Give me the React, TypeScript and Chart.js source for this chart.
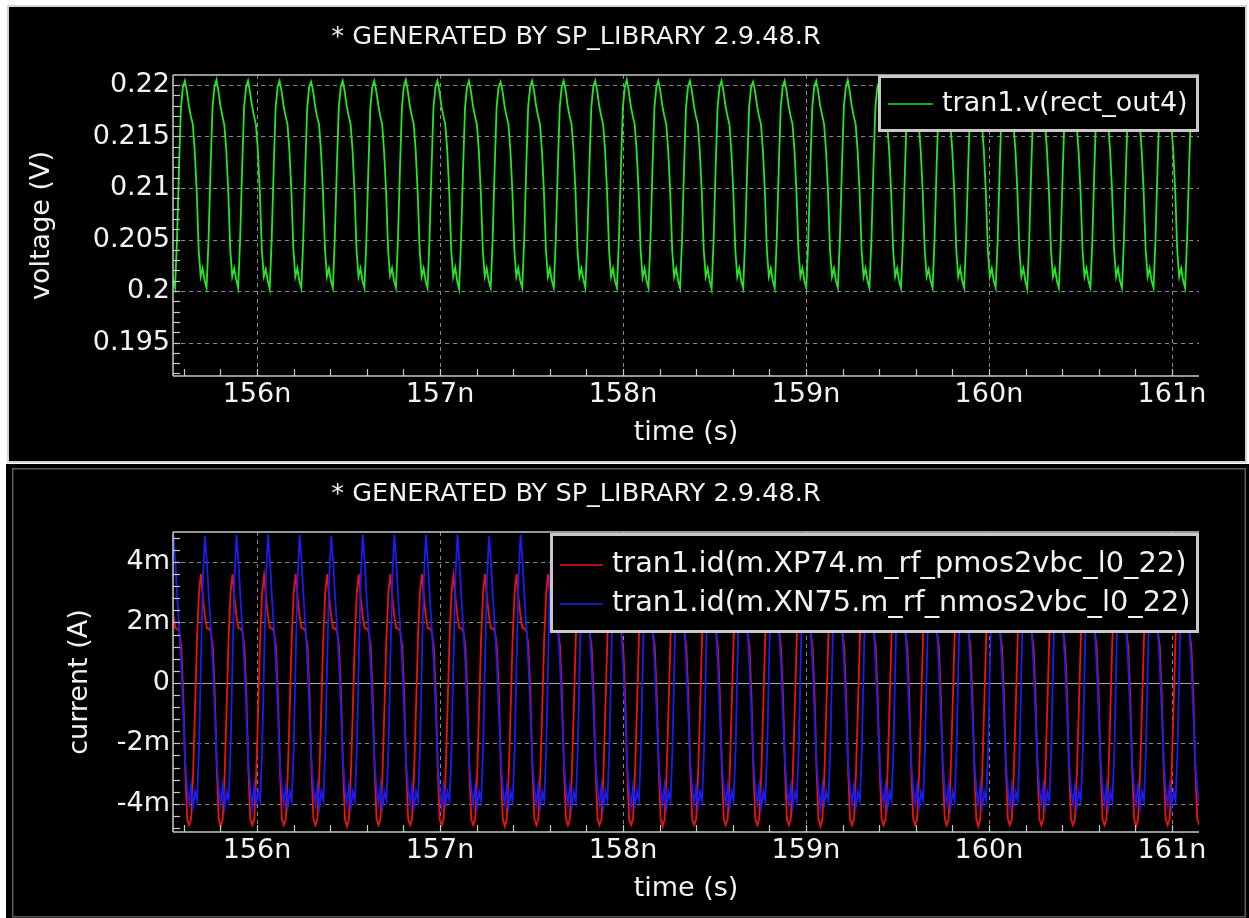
import React, { useEffect, useRef } from 'react';
import { Chart, registerables } from 'chart.js';

Chart.register(...registerables);

// ---------- texts & ticks ----------
const TITLE = '* GENERATED BY SP_LIBRARY 2.9.48.R';
const X_TITLE = 'time (s)';
const V_TITLE = 'voltage (V)';
const I_TITLE = 'current (A)';
const V_LABEL = 'tran1.v(rect_out4)';
const P_LABEL = 'tran1.id(m.XP74.m_rf_pmos2vbc_l0_22)';
const N_LABEL = 'tran1.id(m.XN75.m_rf_nmos2vbc_l0_22)';

const TIME_TICKS = [156, 157, 158, 159, 160, 161];
const TIME_TICK_LABELS = ['156n', '157n', '158n', '159n', '160n', '161n'];
const VOLT_TICKS = [0.195, 0.2, 0.205, 0.21, 0.215, 0.22];
const VOLT_TICK_LABELS = ['0.195', '0.2', '0.205', '0.21', '0.215', '0.22'];
const CUR_TICKS = [-4, -2, 0, 2, 4];
const CUR_TICK_LABELS = ['-4m', '-2m', '0', '2m', '4m'];

// axis ranges (ns, V, mA)
const TIME_MIN = 155.541;
const TIME_MAX = 161.148;
const VOLT_MIN = 0.19175;
const VOLT_MAX = 0.22097;
const CUR_MIN = -4.93;
const CUR_MAX = 4.99;

// sampling grid of the traces (ns)
const SAMPLE_STEP_NS = 0.01078125;
const V_START_NS = 155.5305;
const I_START_NS = 155.5322;

// ---------- series ----------
// tran1.v(rect_out4), volts
const V_RECT_OUT4 = [
  0.2022, 0.2010, 0.2003, 0.2050, 0.2118, 0.2178, 0.2198,
  0.2204, 0.2194, 0.2180, 0.2170, 0.2162, 0.2136, 0.2096, 0.2040, 0.2014, 0.2022, 0.2010, 0.2003, 0.2050, 0.2118, 0.2178, 0.2198,
  0.2205, 0.2194, 0.2180, 0.2170, 0.2161, 0.2136, 0.2096, 0.2040, 0.2014, 0.2022, 0.2011, 0.2003, 0.2050, 0.2118, 0.2178, 0.2198,
  0.2204, 0.2193, 0.2180, 0.2170, 0.2162, 0.2136, 0.2095, 0.2040, 0.2014, 0.2021, 0.2010, 0.2002, 0.2050, 0.2118, 0.2178, 0.2198,
  0.2204, 0.2194, 0.2180, 0.2170, 0.2162, 0.2136, 0.2096, 0.2040, 0.2014, 0.2022, 0.2010, 0.2003, 0.2050, 0.2118, 0.2178, 0.2198,
  0.2203, 0.2194, 0.2180, 0.2169, 0.2162, 0.2136, 0.2096, 0.2041, 0.2014, 0.2022, 0.2010, 0.2003, 0.2051, 0.2118, 0.2178, 0.2198,
  0.2204, 0.2194, 0.2180, 0.2170, 0.2162, 0.2136, 0.2096, 0.2040, 0.2014, 0.2022, 0.2010, 0.2003, 0.2050, 0.2118, 0.2178, 0.2198,
  0.2204, 0.2194, 0.2181, 0.2170, 0.2162, 0.2135, 0.2096, 0.2040, 0.2015, 0.2022, 0.2010, 0.2003, 0.2050, 0.2117, 0.2178, 0.2199,
  0.2205, 0.2194, 0.2180, 0.2170, 0.2162, 0.2136, 0.2096, 0.2040, 0.2014, 0.2022, 0.2010, 0.2003, 0.2050, 0.2118, 0.2178, 0.2198,
  0.2204, 0.2194, 0.2180, 0.2170, 0.2162, 0.2136, 0.2096, 0.2040, 0.2014, 0.2023, 0.2010, 0.2002, 0.2050, 0.2118, 0.2178, 0.2198,
  0.2204, 0.2194, 0.2180, 0.2170, 0.2162, 0.2136, 0.2096, 0.2040, 0.2014, 0.2022, 0.2010, 0.2003, 0.2050, 0.2118, 0.2178, 0.2198,
  0.2203, 0.2194, 0.2180, 0.2170, 0.2162, 0.2136, 0.2097, 0.2040, 0.2014, 0.2022, 0.2010, 0.2003, 0.2050, 0.2118, 0.2179, 0.2198,
  0.2204, 0.2194, 0.2180, 0.2170, 0.2162, 0.2136, 0.2096, 0.2040, 0.2014, 0.2022, 0.2010, 0.2003, 0.2050, 0.2118, 0.2178, 0.2198,
  0.2204, 0.2195, 0.2180, 0.2170, 0.2162, 0.2136, 0.2096, 0.2040, 0.2014, 0.2022, 0.2011, 0.2003, 0.2050, 0.2118, 0.2178, 0.2198,
  0.2204, 0.2194, 0.2180, 0.2170, 0.2162, 0.2136, 0.2096, 0.2040, 0.2014, 0.2022, 0.2010, 0.2003, 0.2050, 0.2118, 0.2178, 0.2198,
  0.2205, 0.2194, 0.2180, 0.2170, 0.2162, 0.2136, 0.2096, 0.2040, 0.2013, 0.2022, 0.2010, 0.2003, 0.2050, 0.2118, 0.2178, 0.2198,
  0.2204, 0.2194, 0.2180, 0.2170, 0.2162, 0.2136, 0.2096, 0.2040, 0.2014, 0.2022, 0.2010, 0.2003, 0.2050, 0.2118, 0.2178, 0.2198,
  0.2204, 0.2194, 0.2180, 0.2170, 0.2162, 0.2136, 0.2096, 0.2040, 0.2014, 0.2022, 0.2010, 0.2002, 0.2049, 0.2118, 0.2178, 0.2198,
  0.2204, 0.2194, 0.2180, 0.2170, 0.2162, 0.2136, 0.2096, 0.2040, 0.2014, 0.2022, 0.2010, 0.2003, 0.2050, 0.2118, 0.2178, 0.2198,
  0.2203, 0.2194, 0.2180, 0.2170, 0.2162, 0.2136, 0.2096, 0.2040, 0.2014, 0.2022, 0.2010, 0.2003, 0.2050, 0.2118, 0.2178, 0.2198,
  0.2204, 0.2194, 0.2180, 0.2170, 0.2162, 0.2136, 0.2096, 0.2040, 0.2014, 0.2022, 0.2010, 0.2003, 0.2050, 0.2118, 0.2178, 0.2198,
  0.2204, 0.2194, 0.2180, 0.2171, 0.2162, 0.2136, 0.2096, 0.2040, 0.2014, 0.2022, 0.2010, 0.2003, 0.2050, 0.2118, 0.2178, 0.2198,
  0.2205, 0.2194, 0.2180, 0.2170, 0.2162, 0.2136, 0.2096, 0.2040, 0.2014, 0.2022, 0.2010, 0.2003, 0.2050, 0.2118, 0.2178, 0.2198,
  0.2204, 0.2194, 0.2180, 0.2170, 0.2162, 0.2136, 0.2096, 0.2040, 0.2014, 0.2022, 0.2010, 0.2003, 0.2050, 0.2118, 0.2178, 0.2198,
  0.2204, 0.2194, 0.2180, 0.2170, 0.2162, 0.2136, 0.2096, 0.2040, 0.2014, 0.2021, 0.2010, 0.2003, 0.2050, 0.2118, 0.2178, 0.2198,
  0.2204, 0.2194, 0.2180, 0.2170, 0.2162, 0.2136, 0.2096, 0.2040, 0.2014, 0.2022, 0.2010, 0.2003, 0.2050, 0.2118, 0.2178, 0.2198,
  0.2203, 0.2194, 0.2180, 0.2170, 0.2162, 0.2136, 0.2096, 0.2040, 0.2014, 0.2022, 0.2010, 0.2003, 0.2050, 0.2118, 0.2178, 0.2198,
  0.2204, 0.2194, 0.2180, 0.2170, 0.2162, 0.2136, 0.2096, 0.2040, 0.2014, 0.2022, 0.2010, 0.2002, 0.2050, 0.2118, 0.2178, 0.2198,
  0.2204, 0.2194, 0.2180, 0.2170, 0.2162, 0.2136, 0.2096, 0.2040, 0.2014, 0.2022, 0.2010, 0.2003, 0.2050, 0.2118, 0.2178, 0.2198,
  0.2204, 0.2194, 0.2180, 0.2170, 0.2162, 0.2136, 0.2096, 0.2040, 0.2014, 0.2022, 0.2010, 0.2003, 0.2050, 0.2118, 0.2178, 0.2198,
  0.2205, 0.2194, 0.2180, 0.2170, 0.2162, 0.2136, 0.2096, 0.2040, 0.2014, 0.2022, 0.2010, 0.2003, 0.2050, 0.2118, 0.2178, 0.2198,
  0.2204, 0.2194, 0.2180, 0.2170, 0.2162, 0.2136, 0.2096, 0.2040, 0.2014, 0.2022, 0.2010, 0.2003, 0.2050, 0.2118, 0.2178, 0.2198,
  0.2204, 0.2194, 0.2180, 0.2170, 0.2162, 0.2136, 0.2096, 0.2040, 0.2014, 0.2022, 0.2010, 0.2003, 0.2050, 0.2118, 0.2178, 0.2198,
  0.2204, 0.2194, 0.2180, 0.2170,
];

// tran1.id(m.XP74...) , mA
const ID_PMOS = [
  2.8,
  2.2, 1.8, 1.8, 1.7, 1.2, -0.4, -2.8, -4.5, -4.7, -4.5, -3.0, -0.8, 1.5, 3.0, 3.6, 2.8,
  2.2, 1.8, 1.8, 1.7, 1.2, -0.4, -2.8, -4.5, -4.75, -4.5, -3.0, -0.8, 1.5, 3.0, 3.6, 2.8,
  2.2, 1.8, 1.8, 1.7, 1.2, -0.4, -2.8, -4.5, -4.7, -4.5, -3.0, -0.8, 1.5, 3.0, 3.55, 2.8,
  2.2, 1.8, 1.8, 1.7, 1.2, -0.4, -2.8, -4.5, -4.7, -4.5, -3.0, -0.8, 1.5, 3.0, 3.6, 2.8,
  2.2, 1.8, 1.8, 1.7, 1.2, -0.4, -2.8, -4.5, -4.7, -4.5, -3.0, -0.8, 1.5, 3.0, 3.6, 2.8,
  2.2, 1.8, 1.8, 1.7, 1.2, -0.4, -2.8, -4.5, -4.75, -4.5, -3.0, -0.8, 1.5, 3.0, 3.6, 2.8,
  2.2, 1.8, 1.8, 1.7, 1.2, -0.4, -2.8, -4.5, -4.7, -4.5, -3.0, -0.8, 1.5, 3.0, 3.6, 2.8,
  2.2, 1.8, 1.8, 1.7, 1.2, -0.4, -2.8, -4.5, -4.7, -4.5, -3.0, -0.8, 1.5, 3.0, 3.6, 2.8,
  2.2, 1.8, 1.8, 1.7, 1.2, -0.4, -2.8, -4.5, -4.7, -4.5, -3.0, -0.8, 1.5, 3.0, 3.55, 2.8,
  2.2, 1.8, 1.8, 1.7, 1.2, -0.4, -2.8, -4.5, -4.7, -4.5, -3.0, -0.8, 1.5, 3.0, 3.6, 2.8,
  2.2, 1.8, 1.8, 1.7, 1.2, -0.4, -2.8, -4.5, -4.75, -4.5, -3.0, -0.8, 1.5, 3.0, 3.6, 2.8,
  2.2, 1.8, 1.8, 1.7, 1.2, -0.4, -2.8, -4.5, -4.7, -4.5, -3.0, -0.8, 1.5, 3.0, 3.6, 2.8,
  2.2, 1.8, 1.8, 1.7, 1.2, -0.4, -2.8, -4.5, -4.7, -4.5, -3.0, -0.8, 1.5, 3.0, 3.6, 2.8,
  2.2, 1.8, 1.8, 1.7, 1.2, -0.4, -2.8, -4.5, -4.7, -4.5, -3.0, -0.8, 1.5, 3.0, 3.6, 2.8,
  2.2, 1.8, 1.8, 1.7, 1.2, -0.4, -2.8, -4.5, -4.7, -4.5, -3.0, -0.8, 1.5, 3.0, 3.6, 2.8,
  2.2, 1.8, 1.8, 1.7, 1.2, -0.4, -2.8, -4.5, -4.75, -4.5, -3.0, -0.8, 1.5, 3.0, 3.6, 2.8,
  2.2, 1.8, 1.8, 1.7, 1.2, -0.4, -2.8, -4.5, -4.7, -4.5, -3.0, -0.8, 1.5, 3.0, 3.6, 2.8,
  2.2, 1.8, 1.8, 1.7, 1.2, -0.4, -2.8, -4.5, -4.7, -4.5, -3.0, -0.8, 1.5, 3.0, 3.6, 2.8,
  2.2, 1.8, 1.8, 1.7, 1.2, -0.4, -2.8, -4.5, -4.7, -4.5, -3.0, -0.8, 1.5, 3.0, 3.6, 2.8,
  2.2, 1.8, 1.8, 1.7, 1.2, -0.4, -2.8, -4.5, -4.7, -4.5, -3.0, -0.8, 1.5, 3.0, 3.6, 2.8,
  2.2, 1.8, 1.8, 1.7, 1.2, -0.4, -2.8, -4.5, -4.75, -4.5, -3.0, -0.8, 1.5, 3.0, 3.6, 2.8,
  2.2, 1.8, 1.8, 1.7, 1.2, -0.4, -2.8, -4.5, -4.7, -4.5, -3.0, -0.8, 1.5, 3.0, 3.6, 2.8,
  2.2, 1.8, 1.8, 1.7, 1.2, -0.4, -2.8, -4.5, -4.7, -4.5, -3.0, -0.8, 1.5, 3.0, 3.6, 2.8,
  2.2, 1.8, 1.8, 1.7, 1.2, -0.4, -2.8, -4.5, -4.7, -4.5, -3.0, -0.8, 1.5, 3.0, 3.6, 2.8,
  2.2, 1.8, 1.8, 1.7, 1.2, -0.4, -2.8, -4.5, -4.7, -4.5, -3.0, -0.8, 1.5, 3.0, 3.6, 2.8,
  2.2, 1.8, 1.8, 1.7, 1.2, -0.4, -2.8, -4.5, -4.75, -4.5, -3.0, -0.8, 1.5, 3.0, 3.6, 2.8,
  2.2, 1.8, 1.8, 1.7, 1.2, -0.4, -2.8, -4.5, -4.7, -4.5, -3.0, -0.8, 1.5, 3.0, 3.6, 2.8,
  2.2, 1.8, 1.8, 1.7, 1.2, -0.4, -2.8, -4.5, -4.7, -4.5, -3.0, -0.8, 1.5, 3.0, 3.6, 2.8,
  2.2, 1.8, 1.8, 1.7, 1.2, -0.4, -2.8, -4.5, -4.7, -4.5, -3.0, -0.8, 1.5, 3.0, 3.6, 2.8,
  2.2, 1.8, 1.8, 1.7, 1.2, -0.4, -2.8, -4.5, -4.7, -4.5, -3.0, -0.8, 1.5, 3.0, 3.6, 2.8,
  2.2, 1.8, 1.8, 1.7, 1.2, -0.4, -2.8, -4.5, -4.75, -4.5, -3.0, -0.8, 1.5, 3.0, 3.6, 2.8,
  2.2, 1.8, 1.8, 1.7, 1.2, -0.4, -2.8, -4.5, -4.7, -4.5, -3.0, -0.8, 1.5, 3.0, 3.6, 2.8,
  2.2, 1.8, 1.8, 1.7, 1.2, -0.4, -2.8, -4.5, -4.7, -4.5,
];

// tran1.id(m.XN75...) , mA
const ID_NMOS = [
  3.5,
  4.9, 4.0, 2.8, 1.8, 0.6, -1.0, -2.6, -3.5, -4.0, -3.4, -4.1, -3.6, -3.9, -2.2, 0.8, 3.5,
  4.85, 4.0, 2.8, 1.8, 0.6, -1.0, -2.6, -3.5, -4.0, -3.4, -4.1, -3.6, -3.9, -2.2, 0.8, 3.5,
  4.9, 4.0, 2.8, 1.8, 0.6, -1.0, -2.6, -3.5, -4.1, -3.4, -4.0, -3.6, -3.9, -2.2, 0.8, 3.5,
  4.9, 4.0, 2.8, 1.8, 0.6, -1.0, -2.6, -3.5, -4.0, -3.4, -4.1, -3.6, -3.9, -2.2, 0.8, 3.5,
  4.9, 4.0, 2.8, 1.8, 0.6, -1.0, -2.6, -3.5, -4.0, -3.4, -4.1, -3.6, -3.9, -2.2, 0.8, 3.5,
  4.85, 4.0, 2.8, 1.8, 0.6, -1.0, -2.6, -3.5, -4.0, -3.4, -4.1, -3.6, -3.9, -2.2, 0.8, 3.5,
  4.9, 4.0, 2.8, 1.8, 0.6, -1.0, -2.6, -3.5, -4.0, -3.4, -4.1, -3.6, -3.9, -2.2, 0.8, 3.5,
  4.9, 4.0, 2.8, 1.8, 0.6, -1.0, -2.6, -3.5, -4.0, -3.4, -4.1, -3.6, -3.9, -2.2, 0.8, 3.5,
  4.9, 4.0, 2.8, 1.8, 0.6, -1.0, -2.6, -3.5, -4.1, -3.4, -4.0, -3.6, -3.9, -2.2, 0.8, 3.5,
  4.9, 4.0, 2.8, 1.8, 0.6, -1.0, -2.6, -3.5, -4.0, -3.4, -4.1, -3.6, -3.9, -2.2, 0.8, 3.5,
  4.85, 4.0, 2.8, 1.8, 0.6, -1.0, -2.6, -3.5, -4.0, -3.4, -4.1, -3.6, -3.9, -2.2, 0.8, 3.5,
  4.9, 4.0, 2.8, 1.8, 0.6, -1.0, -2.6, -3.5, -4.0, -3.4, -4.1, -3.6, -3.9, -2.2, 0.8, 3.5,
  4.9, 4.0, 2.8, 1.8, 0.6, -1.0, -2.6, -3.5, -4.0, -3.4, -4.1, -3.6, -3.9, -2.2, 0.8, 3.5,
  4.9, 4.0, 2.8, 1.8, 0.6, -1.0, -2.6, -3.5, -4.0, -3.4, -4.1, -3.6, -3.9, -2.2, 0.8, 3.5,
  4.9, 4.0, 2.8, 1.8, 0.6, -1.0, -2.6, -3.5, -4.1, -3.4, -4.0, -3.6, -3.9, -2.2, 0.8, 3.5,
  4.85, 4.0, 2.8, 1.8, 0.6, -1.0, -2.6, -3.5, -4.0, -3.4, -4.1, -3.6, -3.9, -2.2, 0.8, 3.5,
  4.9, 4.0, 2.8, 1.8, 0.6, -1.0, -2.6, -3.5, -4.0, -3.4, -4.1, -3.6, -3.9, -2.2, 0.8, 3.5,
  4.9, 4.0, 2.8, 1.8, 0.6, -1.0, -2.6, -3.5, -4.0, -3.4, -4.1, -3.6, -3.9, -2.2, 0.8, 3.5,
  4.9, 4.0, 2.8, 1.8, 0.6, -1.0, -2.6, -3.5, -4.0, -3.4, -4.1, -3.6, -3.9, -2.2, 0.8, 3.5,
  4.9, 4.0, 2.8, 1.8, 0.6, -1.0, -2.6, -3.5, -4.0, -3.4, -4.1, -3.6, -3.9, -2.2, 0.8, 3.5,
  4.85, 4.0, 2.8, 1.8, 0.6, -1.0, -2.6, -3.5, -4.1, -3.4, -4.0, -3.6, -3.9, -2.2, 0.8, 3.5,
  4.9, 4.0, 2.8, 1.8, 0.6, -1.0, -2.6, -3.5, -4.0, -3.4, -4.1, -3.6, -3.9, -2.2, 0.8, 3.5,
  4.9, 4.0, 2.8, 1.8, 0.6, -1.0, -2.6, -3.5, -4.0, -3.4, -4.1, -3.6, -3.9, -2.2, 0.8, 3.5,
  4.9, 4.0, 2.8, 1.8, 0.6, -1.0, -2.6, -3.5, -4.0, -3.4, -4.1, -3.6, -3.9, -2.2, 0.8, 3.5,
  4.9, 4.0, 2.8, 1.8, 0.6, -1.0, -2.6, -3.5, -4.0, -3.4, -4.1, -3.6, -3.9, -2.2, 0.8, 3.5,
  4.85, 4.0, 2.8, 1.8, 0.6, -1.0, -2.6, -3.5, -4.0, -3.4, -4.1, -3.6, -3.9, -2.2, 0.8, 3.5,
  4.9, 4.0, 2.8, 1.8, 0.6, -1.0, -2.6, -3.5, -4.1, -3.4, -4.0, -3.6, -3.9, -2.2, 0.8, 3.5,
  4.9, 4.0, 2.8, 1.8, 0.6, -1.0, -2.6, -3.5, -4.0, -3.4, -4.1, -3.6, -3.9, -2.2, 0.8, 3.5,
  4.9, 4.0, 2.8, 1.8, 0.6, -1.0, -2.6, -3.5, -4.0, -3.4, -4.1, -3.6, -3.9, -2.2, 0.8, 3.5,
  4.9, 4.0, 2.8, 1.8, 0.6, -1.0, -2.6, -3.5, -4.0, -3.4, -4.1, -3.6, -3.9, -2.2, 0.8, 3.5,
  4.85, 4.0, 2.8, 1.8, 0.6, -1.0, -2.6, -3.5, -4.0, -3.4, -4.1, -3.6, -3.9, -2.2, 0.8, 3.5,
  4.9, 4.0, 2.8, 1.8, 0.6, -1.0, -2.6, -3.5, -4.0, -3.4, -4.1, -3.6, -3.9, -2.2, 0.8, 3.5,
  4.9, 4.0, 2.8, 1.8, 0.6, -1.0, -2.6, -3.5, -4.0, -3.4,
];

// sampling instants (ns) of each trace
const V_TIME = V_RECT_OUT4.map((_, i) => V_START_NS + i * SAMPLE_STEP_NS);
const I_TIME = ID_PMOS.map((_, i) => I_START_NS + i * SAMPLE_STEP_NS);

// ---------- style ----------
const FONT = '"DejaVu Sans", "Liberation Sans", sans-serif';
const TEXT = '#f2f2f2';
const AXIS = '#c8c8c8';
const GRID = '#8a8a8a';
const GREEN = 'rgb(34, 232, 34)';
const RED = 'rgb(236, 18, 18)';
const BLUE = 'rgb(28, 28, 240)';
const TRACE_WIDTH = 1.8;

type Decor = {
  kind: 'top' | 'bottom';
  xMinor: [number, number, number];
  yMinor: [number, number, number];
  xMajor: number[];
  yMajor: number[];
  zero: boolean;
  titleY: number;
  legend: { x: number; y: number; w: number; h: number; rows: number[]; l0: number; l1: number; tx: number; font: number };
};

function line(ctx: CanvasRenderingContext2D, x0: number, y0: number, x1: number, y1: number) {
  ctx.beginPath();
  ctx.moveTo(x0, y0);
  ctx.lineTo(x1, y1);
  ctx.stroke();
}

function decorPlugin(d: Decor) {
  return {
    id: 'decor',
    beforeDraw(chart: any) {
      const ctx: CanvasRenderingContext2D = chart.ctx;
      ctx.save();
      ctx.fillStyle = '#ffffff';
      ctx.fillRect(0, 0, chart.width, chart.height);
      if (d.kind === 'top') {
        ctx.fillStyle = '#000000';
        ctx.fillRect(7, 5, 1240, 458);
        ctx.strokeStyle = '#d4d4d4';
        ctx.lineWidth = 2;
        ctx.strokeRect(8, 6, 1238, 456);
      } else {
        ctx.fillStyle = '#000000';
        ctx.fillRect(6, 0, 1243, 454);
        ctx.strokeStyle = '#5c5c5c';
        ctx.lineWidth = 1.5;
        ctx.strokeRect(12.75, 4.75, 1232.5, 448);
      }
      ctx.restore();
    },
    beforeDatasetsDraw(chart: any) {
      const { ctx, chartArea: a, scales } = chart;
      const x = scales.x;
      const y = scales.y;
      ctx.save();
      ctx.lineWidth = 1;
      ctx.strokeStyle = GRID;
      ctx.setLineDash([4, 4]);
      for (const v of d.xMajor) {
        const px = Math.round(x.getPixelForValue(v)) + 0.5;
        line(ctx, px, a.top, px, a.bottom);
      }
      for (const v of d.yMajor) {
        if (d.zero && v === 0) continue;
        const py = Math.round(y.getPixelForValue(v)) + 0.5;
        line(ctx, a.left, py, a.right, py);
      }
      if (d.zero) {
        ctx.setLineDash([]);
        ctx.strokeStyle = '#a4a4a4';
        const py = Math.round(y.getPixelForValue(0)) + 0.5;
        line(ctx, a.left, py, a.right, py);
      }
      ctx.restore();
    },
    afterDatasetsDraw(chart: any) {
      const { ctx, chartArea: a, scales } = chart;
      const x = scales.x;
      const y = scales.y;
      ctx.save();
      ctx.strokeStyle = AXIS;
      ctx.lineWidth = 1.5;
      line(ctx, a.left, a.top, a.right, a.top);
      line(ctx, a.left, a.bottom, a.right, a.bottom);
      line(ctx, a.left, a.top, a.left, a.bottom);
      ctx.lineWidth = 1.2;
      const [xs, xe, xst] = d.xMinor;
      const nx = Math.round((xe - xs) / xst);
      for (let i = 0; i <= nx; i++) {
        const px = Math.round(x.getPixelForValue(xs + i * xst)) + 0.5;
        line(ctx, px, a.bottom, px, a.bottom - 7);
      }
      const [ys, ye, yst] = d.yMinor;
      const ny = Math.round((ye - ys) / yst);
      for (let i = 0; i <= ny; i++) {
        const py = Math.round(y.getPixelForValue(ys + i * yst)) + 0.5;
        line(ctx, a.left, py, a.left + 7, py);
      }
      // legend
      const L = d.legend;
      ctx.fillStyle = '#000000';
      ctx.fillRect(L.x, L.y, L.w, L.h);
      ctx.strokeStyle = '#c8c8c8';
      ctx.lineWidth = 3;
      ctx.strokeRect(L.x + 1.5, L.y + 1.5, L.w - 3, L.h - 3);
      chart.data.datasets.forEach((ds: any, i: number) => {
        const yy = L.rows[i];
        ctx.strokeStyle = ds.borderColor;
        ctx.lineWidth = 1.5;
        line(ctx, L.l0, yy, L.l1, yy);
        ctx.fillStyle = TEXT;
        ctx.font = `${L.font}px ${FONT}`;
        ctx.textAlign = 'left';
        ctx.textBaseline = 'middle';
        ctx.fillText(ds.label, L.tx, yy);
      });
      ctx.restore();
    },
    afterDraw(chart: any) {
      const ctx: CanvasRenderingContext2D = chart.ctx;
      ctx.save();
      ctx.fillStyle = TEXT;
      ctx.font = `25.6px ${FONT}`;
      ctx.textAlign = 'center';
      ctx.textBaseline = 'middle';
      ctx.fillText(TITLE, 576, d.titleY);
      ctx.restore();
    },
  };
}

function makeConfig(opts: {
  labels: number[];
  datasets: any[];
  yMin: number;
  yMax: number;
  yTicks: number[];
  yTickLabels: string[];
  yTitle: string;
  yTitlePad: number;
  padTop: number;
  padBottom: number;
  decor: Decor;
}): any {
  const tickFont = { family: FONT, size: 27 };
  return {
    type: 'line',
    data: { labels: opts.labels, datasets: opts.datasets },
    options: {
      responsive: false,
      animation: false,
      devicePixelRatio: 1,
      events: [],
      layout: { padding: { left: 0, right: 50, top: opts.padTop, bottom: opts.padBottom } },
      elements: { point: { radius: 0 }, line: { tension: 0, borderWidth: TRACE_WIDTH } },
      plugins: { legend: { display: false }, title: { display: false }, tooltip: { enabled: false } },
      scales: {
        x: {
          type: 'linear',
          min: TIME_MIN,
          max: TIME_MAX,
          afterBuildTicks: (s: any) => {
            s.ticks = TIME_TICKS.map((v) => ({ value: v }));
          },
          afterFit: (s: any) => {
            s.height = 80;
          },
          grid: { display: false, drawTicks: false },
          border: { display: false },
          ticks: {
            color: TEXT,
            font: tickFont,
            padding: 2.5,
            autoSkip: false,
            maxRotation: 0,
            minRotation: 0,
            callback: (_v: any, i: number) => TIME_TICK_LABELS[i],
          },
          title: { display: true, text: X_TITLE, color: TEXT, font: tickFont, padding: { top: 0, bottom: 6.5 } },
        },
        y: {
          type: 'linear',
          min: opts.yMin,
          max: opts.yMax,
          afterBuildTicks: (s: any) => {
            s.ticks = opts.yTicks.map((v) => ({ value: v }));
          },
          afterFit: (s: any) => {
            s.width = 173;
          },
          grid: { display: false, drawTicks: false },
          border: { display: false },
          ticks: {
            color: TEXT,
            font: tickFont,
            padding: 3,
            autoSkip: false,
            callback: (_v: any, i: number) => opts.yTickLabels[i],
          },
          title: { display: true, text: opts.yTitle, color: TEXT, font: tickFont, padding: { top: opts.yTitlePad, bottom: 0 } },
        },
      },
    },
    plugins: [decorPlugin(opts.decor)],
  };
}

export default function App() {
  const topRef = useRef<HTMLCanvasElement>(null);
  const botRef = useRef<HTMLCanvasElement>(null);

  useEffect(() => {
    const top = new Chart(
      topRef.current as HTMLCanvasElement,
      makeConfig({
        labels: V_TIME,
        datasets: [
          { label: V_LABEL, data: V_RECT_OUT4, borderColor: GREEN, borderWidth: TRACE_WIDTH, pointRadius: 0 },
        ],
        yMin: VOLT_MIN,
        yMax: VOLT_MAX,
        yTicks: VOLT_TICKS,
        yTickLabels: VOLT_TICK_LABELS,
        yTitle: V_TITLE,
        yTitlePad: 25.8,
        padTop: 75,
        padBottom: 8,
        decor: {
          kind: 'top',
          xMinor: [155.6, 161.0, 0.2],
          yMinor: [0.192, 0.22, 0.001],
          xMajor: TIME_TICKS,
          yMajor: VOLT_TICKS,
          zero: false,
          titleY: 37,
          legend: { x: 878, y: 75, w: 321, h: 57, rows: [104], l0: 888, l1: 933, tx: 942, font: 27 },
        },
      })
    );
    const bottom = new Chart(
      botRef.current as HTMLCanvasElement,
      makeConfig({
        labels: I_TIME,
        datasets: [
          { label: P_LABEL, data: ID_PMOS, borderColor: RED, borderWidth: TRACE_WIDTH, pointRadius: 0, order: 1 },
          { label: N_LABEL, data: ID_NMOS, borderColor: BLUE, borderWidth: TRACE_WIDTH, pointRadius: 0, order: 0 },
        ],
        yMin: CUR_MIN,
        yMax: CUR_MAX,
        yTicks: CUR_TICKS,
        yTickLabels: CUR_TICK_LABELS,
        yTitle: I_TITLE,
        yTitlePad: 63.8,
        padTop: 68,
        padBottom: 6,
        decor: {
          kind: 'bottom',
          xMinor: [155.6, 161.0, 0.2],
          yMinor: [-4.8, 4.8, 0.4],
          xMajor: TIME_TICKS,
          yMajor: CUR_TICKS,
          zero: true,
          titleY: 30,
          legend: { x: 550, y: 69, w: 649, h: 100, rows: [101, 140], l0: 560, l1: 603, tx: 612, font: 28.8 },
        },
      })
    );
    return () => {
      top.destroy();
      bottom.destroy();
    };
  }, []);

  return (
    <div style={{ position: 'absolute', left: 0, top: 0, width: 1249, height: 918, background: '#ffffff', overflow: 'hidden' }}>
      <canvas
        ref={topRef}
        width={1249}
        height={464}
        style={{ position: 'absolute', left: 0, top: 0, width: 1249, height: 464, display: 'block' }}
      />
      <canvas
        ref={botRef}
        width={1249}
        height={454}
        style={{ position: 'absolute', left: 0, top: 464, width: 1249, height: 454, display: 'block' }}
      />
    </div>
  );
}
